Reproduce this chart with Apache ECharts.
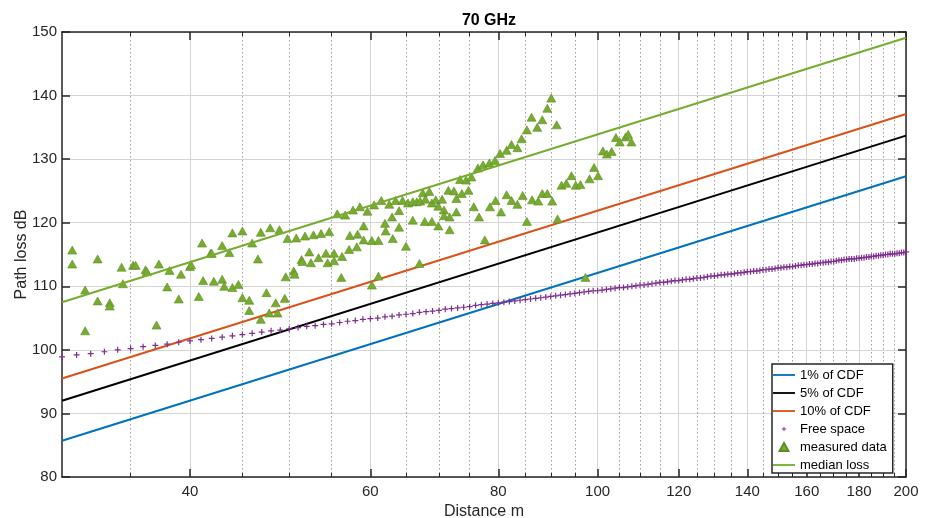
<!DOCTYPE html>
<html><head><meta charset="utf-8">
<script src="https://cdn.jsdelivr.net/npm/echarts@6/dist/echarts.min.js"></script>
<style>html,body{margin:0;padding:0;background:#fff}#c{width:925px;height:518px}</style>
</head><body><div id="c"></div>
<script>
// ---- axes / ticks ----
const xMajorTicks = [40, 60, 80, 100, 120, 140, 160, 180, 200];
const xMinorTicks = [35, 45, 50, 55, 65, 70, 75, 85, 90, 95, 105, 110, 115, 125, 130, 135, 145, 150, 155, 165, 170, 175, 185, 190, 195];
const xRange = [30, 200];
const yRange = [80, 150];

// ---- fitted lines (endpoints at 30 m and 200 m) ----
const lineDist = [30, 200];
const cdf1 = [85.7, 127.3];
const cdf5 = [92.0, 133.7];
const cdf10 = [95.5, 137.1];
const medianLoss = [107.5, 149.1];

// ---- free space ----
const fsDist = [30,31,32,33,34,35,36,37,38,39,40,41,42,43,44,45,46,47,48,49,50,51,52,53,54,55,56,57,58,59,60,61,62,63,64,65,66,67,68,69,70,71,72,73,74,75,76,77,78,79,80,81,82,83,84,85,86,87,88,89,90,91,92,93,94,95,96,97,98,99,100,101,102,103,104,105,106,107,108,109,110,111,112,113,114,115,116,117,118,119,120,121,122,123,124,125,126,127,128,129,130,131,132,133,134,135,136,137,138,139,140,141,142,143,144,145,146,147,148,149,150,151,152,153,154,155,156,157,158,159,160,161,162,163,164,165,166,167,168,169,170,171,172,173,174,175,176,177,178,179,180,181,182,183,184,185,186,187,188,189,190,191,192,193,194,195,196,197,198,199,200];
const fsLoss = [98.9,99.2,99.4,99.7,100.0,100.2,100.5,100.7,100.9,101.2,101.4,101.6,101.8,102.0,102.2,102.4,102.6,102.8,103.0,103.1,103.3,103.5,103.7,103.8,104.0,104.1,104.3,104.5,104.6,104.8,104.9,105.0,105.2,105.3,105.5,105.6,105.7,105.9,106.0,106.1,106.2,106.4,106.5,106.6,106.7,106.8,107.0,107.1,107.2,107.3,107.4,107.5,107.6,107.7,107.8,107.9,108.0,108.1,108.2,108.3,108.4,108.5,108.6,108.7,108.8,108.9,109.0,109.1,109.2,109.3,109.3,109.4,109.5,109.6,109.7,109.8,109.8,109.9,110.0,110.1,110.2,110.2,110.3,110.4,110.5,110.6,110.6,110.7,110.8,110.9,110.9,111.0,111.1,111.1,111.2,111.3,111.3,111.4,111.5,111.6,111.6,111.7,111.8,111.8,111.9,111.9,112.0,112.1,112.1,112.2,112.3,112.3,112.4,112.4,112.5,112.6,112.6,112.7,112.7,112.8,112.9,112.9,113.0,113.0,113.1,113.1,113.2,113.3,113.3,113.4,113.4,113.5,113.5,113.6,113.6,113.7,113.7,113.8,113.8,113.9,113.9,114.0,114.1,114.1,114.2,114.2,114.3,114.3,114.3,114.4,114.4,114.5,114.5,114.6,114.6,114.7,114.7,114.8,114.8,114.9,114.9,115.0,115.0,115.1,115.1,115.1,115.2,115.2,115.3,115.3,115.4];

// ---- measured data ----
const measDist = [30.7,30.7,31.6,31.6,32.5,32.5,33.4,33.4,34.3,34.4,35.2,35.4,36.2,36.3,37.1,37.3,38.0,38.2,39.0,39.2,40.0,40.1,40.8,41.1,41.2,41.9,42.0,42.2,43.0,43.0,43.2,43.7,44.0,44.0,44.6,45.0,45.0,45.7,45.7,46.0,46.6,46.9,46.9,47.5,47.8,47.9,48.5,48.7,48.9,49.5,49.6,49.8,50.5,50.6,50.8,51.4,51.5,51.8,52.3,52.5,52.8,53.4,53.7,54.3,54.5,54.7,55.3,55.3,55.7,56.2,56.3,56.7,57.2,57.3,57.7,58.2,58.3,58.6,59.1,59.1,59.6,60.2,60.2,60.5,61.1,61.1,61.5,62.0,62.1,62.6,63.0,63.1,63.5,64.0,64.0,64.5,65.0,65.3,66.0,66.0,66.6,67.0,67.1,67.5,67.8,67.9,68.5,68.9,68.9,69.5,69.9,69.9,70.5,70.8,70.8,71.5,71.7,71.7,72.4,72.8,72.8,73.4,73.7,74.4,74.8,75.3,75.7,76.4,76.6,77.3,77.6,78.4,78.5,79.4,79.5,80.3,80.5,81.5,81.5,82.4,82.4,83.5,83.5,84.3,84.5,85.3,85.3,86.2,86.3,87.3,87.5,88.3,88.3,89.3,89.3,90.1,90.3,91.2,91.4,92.2,93.2,94.3,95.2,96.2,97.3,98.2,99.2,100.1,101.2,102.1,103.2,104.2,105.1,106.5,107.1,107.9];
const measLoss = [115.7,113.5,109.4,103.0,114.3,107.7,107.4,106.9,113.0,110.4,113.3,113.3,112.6,112.3,103.9,113.5,109.9,112.5,108.0,111.9,113.1,113.4,108.4,116.8,110.9,115.2,115.2,110.8,116.4,111.1,110.0,115.3,118.4,109.8,110.3,108.2,118.7,107.8,106.2,116.8,114.3,104.8,118.5,109.0,105.8,119.2,107.4,105.8,118.9,108.1,111.5,117.5,112.4,111.9,117.6,114.2,113.9,117.9,115.4,113.7,118.1,114.5,118.3,115.2,113.7,118.6,115.2,114.0,121.4,111.4,114.7,121.2,115.8,118.0,122.0,116.2,118.2,122.5,119.5,117.3,121.8,117.2,110.2,122.8,117.2,111.6,123.5,119.9,118.7,122.9,120.9,117.5,123.5,121.9,119.3,123.5,116.3,123.1,123.3,120.4,123.3,113.6,123.4,124.7,120.2,123.7,124.9,123.1,120.2,123.6,122.6,119.5,123.7,122.0,121.1,125.1,120.9,118.9,125.0,121.7,123.8,126.8,124.6,126.7,125.1,127.2,122.5,128.6,120.9,129.1,117.3,129.4,122.5,129.8,123.5,130.9,121.7,124.4,131.4,132.3,123.5,131.8,122.9,133.2,124.3,134.6,120.2,136.6,123.6,135.0,123.4,136.2,124.6,138.0,124.6,139.6,123.4,135.4,120.6,125.9,126.2,127.4,125.9,126.0,111.4,126.9,128.7,127.4,131.3,130.8,131.2,133.4,132.7,133.5,133.9,132.7];

const pairs = (xs, ys) => xs.map((x, i) => [x, ys[i]]);

const FONT = "'Liberation Sans', Arial, Helvetica, sans-serif";
const AXC = '#262626';
const plusPath = 'path://M4,0H6V4H10V6H6V10H4V6H0V4H4Z';
const plusLegendPath = 'path://M-4,-4L-4,-4M14,14L14,14M4,0H6V4H10V6H6V10H4V6H0V4H4Z';
const lineLegendPath = 'path://M0,0H24V2H0Z';
const triLegendPath = 'path://M5,0L10,9H0Z';

const chart = echarts.init(document.getElementById('c'), null, {renderer: 'canvas'});

function xAx(pos, ticks, opts) {
  return Object.assign({
    type: 'log', logBase: 10, min: xRange[0], max: xRange[1], gridIndex: 0, position: pos,
    axisLine: {show: false},
    axisTick: {show: true, inside: true, length: 4, customValues: ticks, lineStyle: {color: AXC, width: 1}},
    axisLabel: {show: false, customValues: ticks},
    splitLine: {show: false},
    minorTick: {show: false}, minorSplitLine: {show: false}
  }, opts);
}

const option = {
  backgroundColor: '#fff',
  animation: false,
  title: {
    text: '70 GHz', left: 484, top: 8, textAlign: 'center',
    textStyle: {fontFamily: FONT, fontSize: 16, fontWeight: 'bold', color: '#000'}
  },
  grid: {left: 62, right: 19, top: 32, bottom: 41, containLabel: false, outerBoundsMode: 'none'},
  xAxis: [
    xAx('bottom', xMajorTicks, {
      axisLine: {show: true, onZero: false, lineStyle: {color: AXC, width: 1.5}},
      axisTick: {show: true, inside: true, length: 8, customValues: xMajorTicks, lineStyle: {color: AXC, width: 1.5}},
      axisLabel: {show: true, customValues: xMajorTicks, margin: 7, fontFamily: FONT, fontSize: 15, color: AXC},
      splitLine: {show: true, lineStyle: {color: '#d4d4d4', width: 1}},
      name: 'Distance m', nameLocation: 'middle', nameGap: 27, nameMoveOverlap: false,
      nameTextStyle: {fontFamily: FONT, fontSize: 16, color: AXC}
    }),
    xAx('bottom', xMinorTicks, {
      splitLine: {show: true, lineStyle: {color: '#9e9e9e', width: 1, type: [1.5, 2.5]}}
    }),
    xAx('top', xMajorTicks, {
      axisLine: {show: true, onZero: false, lineStyle: {color: AXC, width: 1.5}},
      axisTick: {show: true, inside: true, length: 8, customValues: xMajorTicks, lineStyle: {color: AXC, width: 1.5}}
    }),
    xAx('top', xMinorTicks, {})
  ],
  yAxis: [
    {
      type: 'value', min: yRange[0], max: yRange[1], interval: 10, position: 'left',
      axisLine: {show: true, onZero: false, lineStyle: {color: AXC, width: 1.5}},
      axisTick: {show: true, inside: true, length: 8, lineStyle: {color: AXC, width: 1.5}},
      axisLabel: {margin: 5, fontFamily: FONT, fontSize: 15, color: AXC},
      splitLine: {show: true, lineStyle: {color: '#d4d4d4', width: 1}},
      name: 'Path loss dB', nameLocation: 'middle', nameGap: 32, nameRotate: 90, nameMoveOverlap: false,
      nameTextStyle: {fontFamily: FONT, fontSize: 16, color: AXC}
    },
    {
      type: 'value', min: yRange[0], max: yRange[1], interval: 10, position: 'right',
      axisLine: {show: true, onZero: false, lineStyle: {color: AXC, width: 1.5}},
      axisTick: {show: true, inside: true, length: 8, lineStyle: {color: AXC, width: 1.5}},
      axisLabel: {show: false},
      splitLine: {show: false}
    }
  ],
  legend: {
    orient: 'vertical', left: 772, top: 364,
    padding: [4, 6, 1, 1], itemGap: 4, itemWidth: 22, itemHeight: 8,
    backgroundColor: '#fff', borderColor: AXC, borderWidth: 1.5,
    textStyle: {fontFamily: FONT, fontSize: 13, color: '#000', lineHeight: 14},
    data: [
      {name: '1% of CDF', icon: lineLegendPath},
      {name: '5% of CDF', icon: lineLegendPath},
      {name: '10% of CDF', icon: lineLegendPath},
      {name: 'Free space', icon: plusLegendPath},
      {name: 'measured data', icon: triLegendPath},
      {name: 'median loss', icon: lineLegendPath}
    ]
  },
  series: [
    {name: '1% of CDF', type: 'line', data: pairs(lineDist, cdf1), symbol: 'none', lineStyle: {color: '#0072BD', width: 2}, itemStyle: {color: '#0072BD'}, z: 3},
    {name: '5% of CDF', type: 'line', data: pairs(lineDist, cdf5), symbol: 'none', lineStyle: {color: '#000000', width: 2}, itemStyle: {color: '#000000'}, z: 3},
    {name: '10% of CDF', type: 'line', data: pairs(lineDist, cdf10), symbol: 'none', lineStyle: {color: '#D95319', width: 2}, itemStyle: {color: '#D95319'}, z: 3},
    {name: 'Free space', type: 'scatter', data: pairs(fsDist, fsLoss), symbol: plusPath, symbolSize: 6, itemStyle: {color: '#7E2F8E', opacity: 1}, z: 4},
    {name: 'measured data', type: 'scatter', data: pairs(measDist, measLoss), symbol: 'triangle', symbolSize: [9, 8], itemStyle: {color: '#77AC30', borderColor: '#5E8C22', borderWidth: 0.6, opacity: 1}, z: 5},
    {name: 'median loss', type: 'line', data: pairs(lineDist, medianLoss), symbol: 'none', lineStyle: {color: '#77AC30', width: 2}, itemStyle: {color: '#77AC30'}, z: 6}
  ]
};
chart.setOption(option);
</script>
</body></html>
